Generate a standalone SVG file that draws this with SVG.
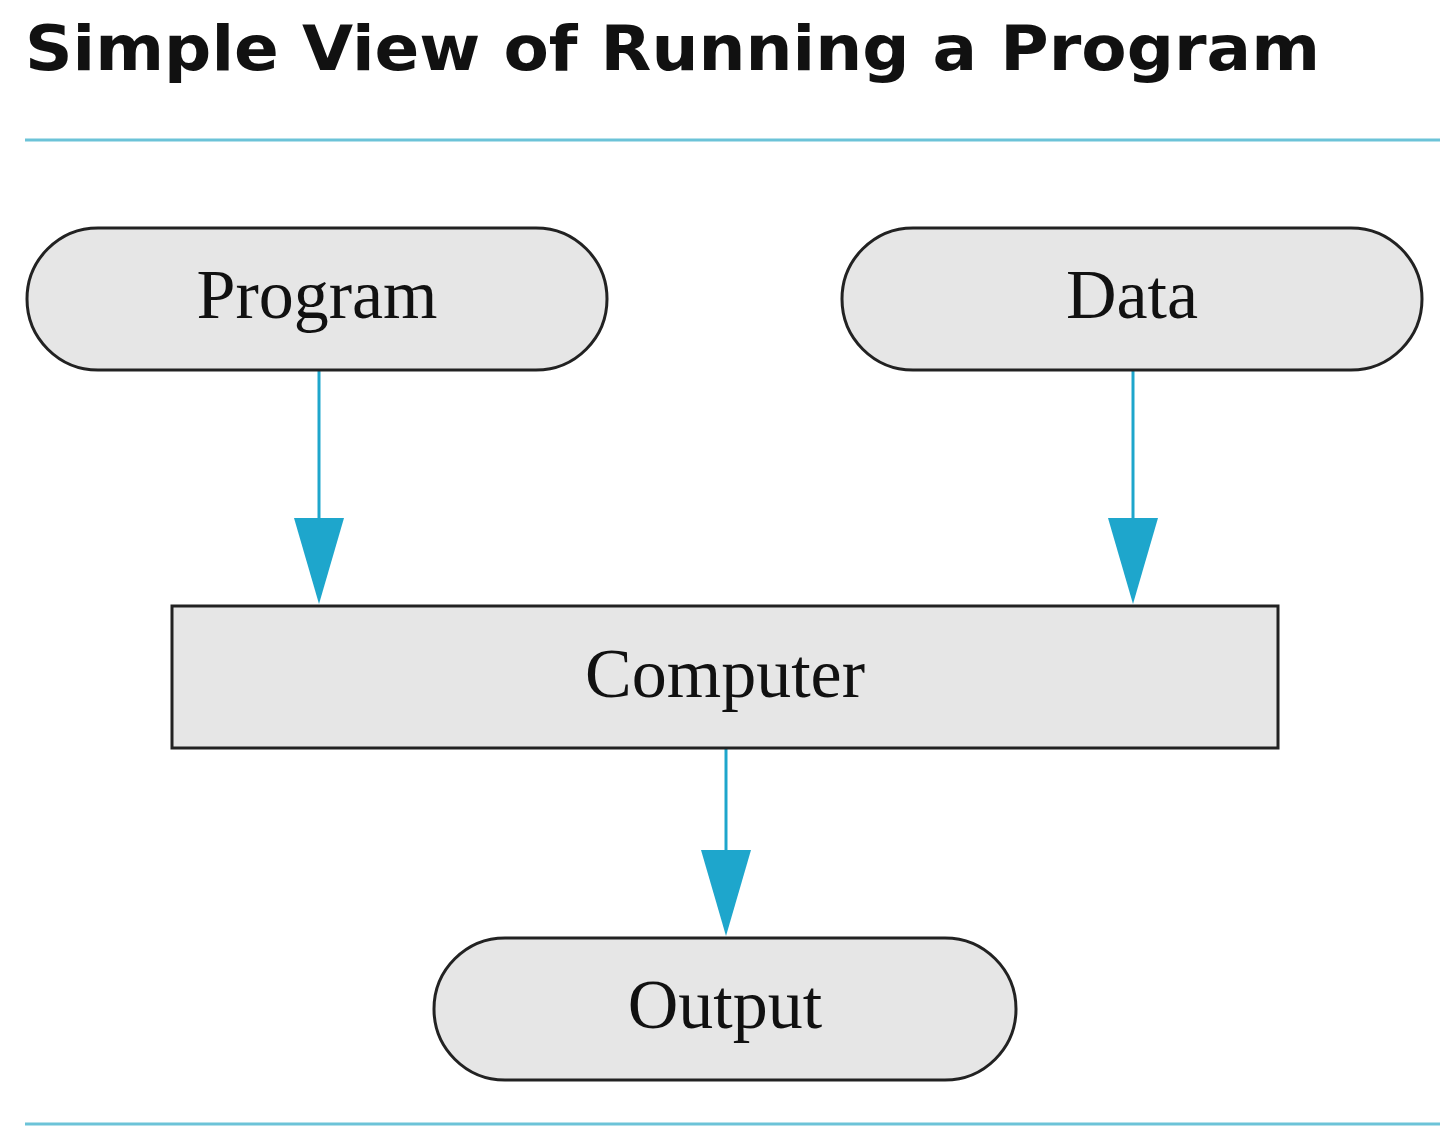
<svg xmlns="http://www.w3.org/2000/svg" width="1440" height="1128" viewBox="0 0 1440 1128">
<style>
.n{fill:#e6e6e6;stroke:#222;stroke-width:3}
.t{font-family:"Liberation Serif",serif;font-size:70px;fill:#111;text-anchor:middle}
.c{stroke:#1ea6cc;stroke-width:3;fill:none}
.h{fill:#1ea6cc}
.r{stroke:#6cc3d8;stroke-width:3}
</style>
<rect width="1440" height="1128" fill="#fff"/>
<text x="25" y="70" font-family="'DejaVu Sans',sans-serif" font-weight="bold" font-size="62" fill="#111" textLength="1295" lengthAdjust="spacingAndGlyphs">Simple View of Running a Program</text>
<line class="r" x1="25" y1="140" x2="1440" y2="140"/>
<line class="r" x1="25" y1="1124" x2="1440" y2="1124"/>
<g id="connectors">
<line class="c" x1="319" y1="370" x2="319" y2="522"/>
<polygon class="h" points="294,518 344,518 319,604"/>
<line class="c" x1="1133" y1="370" x2="1133" y2="522"/>
<polygon class="h" points="1108,518 1158,518 1133,604"/>
<line class="c" x1="726" y1="748" x2="726" y2="854"/>
<polygon class="h" points="701,850 751,850 726,936"/>
</g>
<g id="program"><rect class="n" x="27" y="228" width="580" height="142" rx="71"/><text class="t" x="317" y="318">Program</text></g>
<g id="data"><rect class="n" x="842" y="228" width="580" height="142" rx="71"/><text class="t" x="1132" y="318">Data</text></g>
<g id="computer"><rect class="n" x="172" y="606" width="1106" height="142"/><text class="t" x="725" y="697">Computer</text></g>
<g id="output"><rect class="n" x="434" y="938" width="582" height="142" rx="71"/><text class="t" x="725" y="1028">Output</text></g>
</svg>
